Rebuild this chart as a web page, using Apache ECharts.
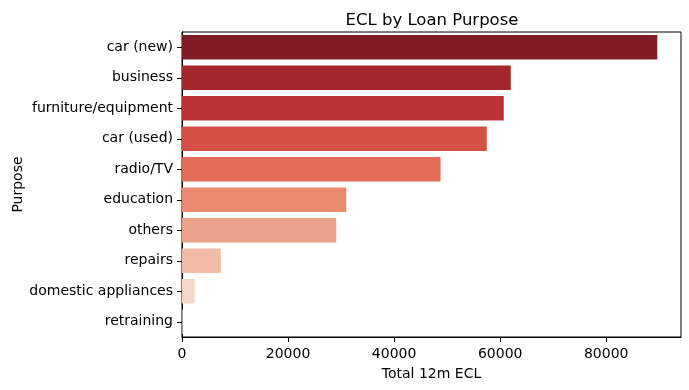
<!DOCTYPE html>
<html><head><meta charset="utf-8">
<script src="https://cdn.jsdelivr.net/npm/echarts@6/dist/echarts.min.js"></script>
<style>html,body{margin:0;padding:0;background:#fff}#c{width:689px;height:390px}</style>
</head><body><div id="c"></div>
<script>
const categories = ["car (new)","business","furniture/equipment","car (used)","radio/TV","education","others","repairs","domestic appliances","retraining"];
const values = [89630, 62000, 60680, 57470, 48760, 30970, 29080, 7320, 2400, 120];
const colors = ["#821c24","#a1272d","#bb3337","#d44f44","#e26c57","#e98970","#eca189","#f2bca8","#f6d6c9","#fff0ea"];
const xTicks = [0, 20000, 40000, 60000, 80000];

const chart = echarts.init(document.getElementById('c'), null, {renderer:'canvas'});
chart.setOption({
  animation: false,
  title: {text: 'ECL by Loan Purpose', left: 427, top: 7, textAlign: 'center',
    textStyle: {fontFamily: 'DejaVu Sans', fontSize: 16.5, fontWeight: 'normal', color: '#000'}},
  grid: {left: 182, right: 8, top: 32, bottom: 53, show: true, borderColor: '#000', borderWidth: 1,
    containLabel: false, outerBoundsMode: 'none'},
  xAxis: {type: 'value', min: 0, max: 94100, interval: 20000,
    name: 'Total 12m ECL', nameLocation: 'middle', nameGap: 30, nameMoveOverlap: false,
    nameTextStyle: {fontFamily: 'DejaVu Sans', fontSize: 14, color: '#000'},
    axisLine: {show: true, lineStyle: {color: '#000', width: 1}},
    axisTick: {show: true, length: 5, customValues: xTicks, lineStyle: {color: '#000'}},
    axisLabel: {fontFamily: 'DejaVu Sans', fontSize: 14, color: '#000', margin: 10, customValues: xTicks,
      formatter: v => String(v)},
    splitLine: {show: false}},
  yAxis: {type: 'category', data: categories, inverse: true,
    name: 'Purpose', nameLocation: 'middle', nameGap: 157, nameRotate: 90, nameMoveOverlap: false,
    nameTextStyle: {fontFamily: 'DejaVu Sans', fontSize: 14, color: '#000'},
    axisLine: {show: true, lineStyle: {color: '#000', width: 1}},
    axisTick: {show: true, length: 5, alignWithLabel: true, lineStyle: {color: '#000'}},
    axisLabel: {fontFamily: 'DejaVu Sans', fontSize: 14, color: '#000', margin: 9},
    splitLine: {show: false}},
  series: [{type: 'bar', barCategoryGap: '20%',
    data: values.map((v, i) => ({value: v, itemStyle: {color: colors[i]}}))}]
});
</script></body></html>
